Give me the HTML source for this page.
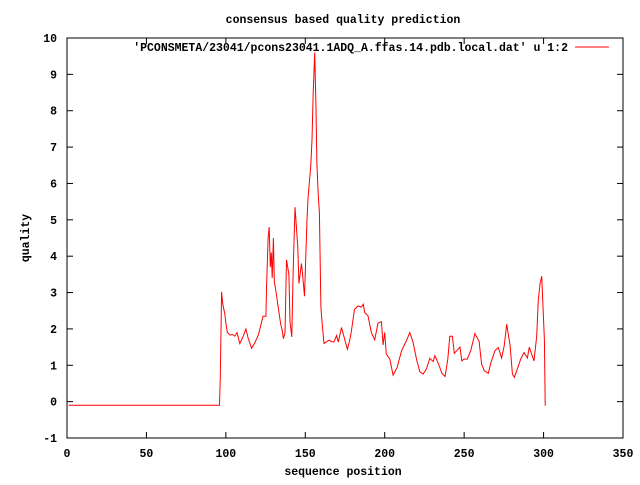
<!DOCTYPE html>
<html><head><meta charset="utf-8"><style>
body{margin:0;background:#fff}
svg text{font-family:"Liberation Mono",monospace;font-size:11.5px;font-weight:bold;fill:#000}
</style></head><body>
<svg id="chart" width="640" height="480" viewBox="0 0 640 480" xmlns="http://www.w3.org/2000/svg">
<rect width="640" height="480" fill="#fff"/>
<text x="343" y="23" text-anchor="middle">consensus based quality prediction</text>
<text x="343" y="475" text-anchor="middle">sequence position</text>
<text transform="translate(29,238) rotate(-90)" text-anchor="middle">quality</text>
<g id="axes"></g>
<rect x="67" y="38" width="556" height="400" fill="none" stroke="#000" stroke-width="1"/>
<text x="568" y="51" text-anchor="end">'PCONSMETA/23041/pcons23041.1ADQ_A.ffas.14.pdb.local.dat' u 1:2</text>
<line x1="575" y1="47" x2="609" y2="47" stroke="#f00" stroke-width="1"/>
<polyline id="series" fill="none" stroke="#f00" stroke-width="1"/>
</svg>
<script>
const positions=[1,96,96.5,97.3,98,99.4,100,101,102.6,104,105.6,107,108.8,110.5,112.6,114,116.2,118,120.4,122,123.4,125.2,125.6,126.6,127.3,128,128.6,129.2,129.9,130.5,131.3,132.4,134.5,135.5,136.2,137.2,138.2,139.7,140.4,141.5,142.3,143.5,145.3,146,147.6,148.5,149.5,151.1,151.8,152.9,153.5,154.2,155,155.9,156.7,157.3,158.1,158.9,159.8,160.7,161.8,163.6,165,166.5,168,169.7,170.8,172.8,174.9,176.5,178,179,181,183.2,185.3,186.5,187.4,189.5,191.6,193.7,195.8,197.9,199,200,201,203.2,205.3,207.8,210.6,213.7,215.8,217.9,220,222.1,224.2,226.3,228.4,230.5,231.5,232.6,234.7,236,238,239.7,241,242.6,243.8,245.3,247.4,248.5,249.9,252,254.1,256.8,259.4,261,262.7,265.2,266.9,269.4,271.5,273.6,275.3,276.8,278.9,280.4,281.6,283.5,285.6,287.7,289.8,291,292.5,294,295.7,296.7,297.8,298.8,300.5,301,301.3,311];
const quality=[-0.1,-0.1,0.7,3.02,2.7,2.4,2.15,1.9,1.83,1.85,1.8,1.9,1.6,1.75,2.0,1.75,1.47,1.6,1.83,2.1,2.35,2.35,3.1,4.5,4.8,3.7,4.1,3.4,4.5,3.3,3.1,2.77,2.13,1.95,1.73,1.9,3.9,3.5,2.2,1.78,3.52,5.35,4.25,3.25,3.8,3.4,2.9,5.0,5.63,6.2,6.5,7.2,8.5,9.6,8.2,6.55,5.7,5.2,2.6,2.1,1.6,1.65,1.69,1.65,1.64,1.82,1.64,2.04,1.7,1.44,1.7,1.94,2.54,2.63,2.6,2.68,2.45,2.36,1.89,1.7,2.16,2.2,1.56,1.9,1.31,1.17,0.73,0.94,1.4,1.68,1.9,1.63,1.17,0.82,0.76,0.9,1.19,1.1,1.26,1.17,0.94,0.78,0.69,1.17,1.8,1.8,1.33,1.4,1.5,1.12,1.17,1.17,1.4,1.87,1.66,1.03,0.85,0.78,1.08,1.4,1.49,1.2,1.55,2.13,1.54,0.76,0.67,0.9,1.17,1.35,1.2,1.5,1.3,1.12,1.8,2.8,3.25,3.45,1.7,-0.1,-0.1];
const xTicks=[0,50,100,150,200,250,300,350];
const yTicks=[-1,0,1,2,3,4,5,6,7,8,9,10];
const X0=67,X1=623,Y0=438,Y1=38;
const xs=v=>X0+(v-0)/(350-0)*(X1-X0);
const ys=v=>Y0-(v+1)/(10+1)*(Y0-Y1);
const NS="http://www.w3.org/2000/svg";
const axes=document.getElementById('axes');
function mk(tag,attrs){const e=document.createElementNS(NS,tag);for(const k in attrs)e.setAttribute(k,attrs[k]);return e;}
xTicks.forEach(t=>{
  const x=xs(t);
  const a=mk('line',{x1:x,y1:Y0,x2:x,y2:Y0-6,stroke:'#000'});
  
  
  axes.appendChild(a);
  const b=mk('line',{x1:x,y1:Y1,x2:x,y2:Y1+6,stroke:'#000'});
  
  
  axes.appendChild(b);
  const l=mk('text',{x:x,y:457,'text-anchor':'middle'});
  l.textContent=t;
  
  
  axes.appendChild(l);
});
yTicks.forEach(t=>{
  const y=ys(t);
  const a=mk('line',{x1:X0,y1:y,x2:X0+6,y2:y,stroke:'#000'});
  
  
  axes.appendChild(a);
  const b=mk('line',{x1:X1,y1:y,x2:X1-6,y2:y,stroke:'#000'});
  
  
  axes.appendChild(b);
  const l=mk('text',{x:57,y:y+4,'text-anchor':'end'});
  l.textContent=t;
  
  
  axes.appendChild(l);
});
document.getElementById('series').setAttribute('points',positions.map((p,i)=>xs(p).toFixed(1)+','+ys(quality[i]).toFixed(1)).join(' '));
</script>
</body></html>
